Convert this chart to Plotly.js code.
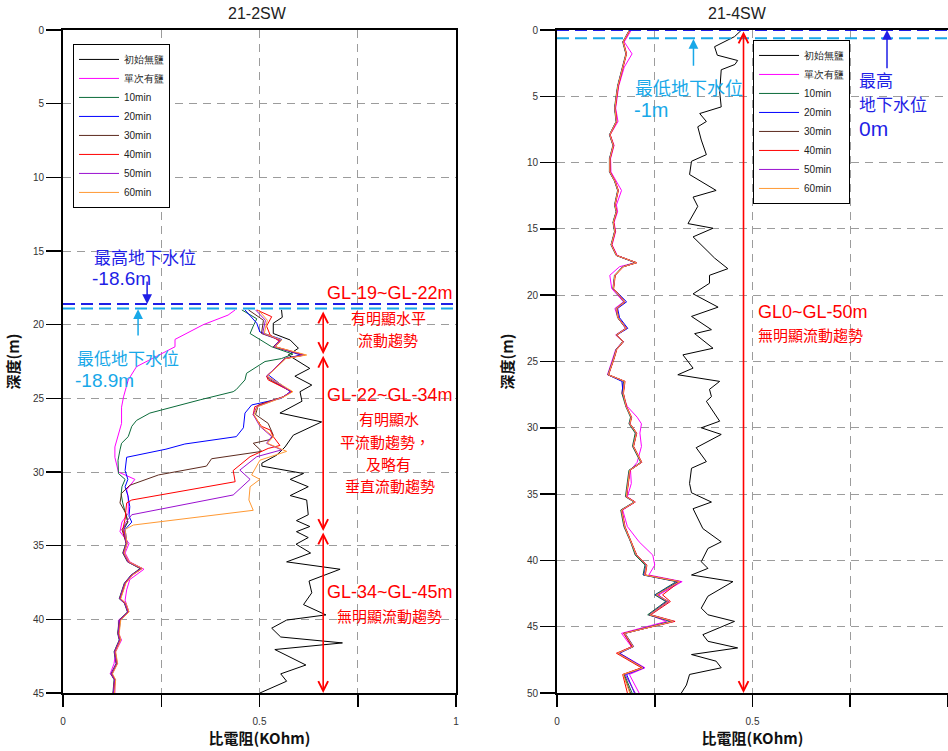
<!DOCTYPE html>
<html><head><meta charset="utf-8">
<script src="https://cdn.plot.ly/plotly-3.0.1.min.js"></script>
<style>html,body{margin:0;padding:0;background:#fff}#chart{width:948px;height:751px}</style>
</head><body><div id="chart"></div>
<script>
// ---------- series names / colours ----------
const SERIES = ['初始無鹽','單次有鹽','10min','20min','30min','40min','50min','60min'];
const COLORS = ['#000000','#ff00ff','#0b6b3a','#0000ff','#5c2a1e','#ff0000','#9a10d0','#ff9933'];
const XTICKS = [0,0.25,0.5,0.75,1];
const XTICKTEXT = ['0','','0.5','','1'];

// ---------- 21-2SW (left) ----------
const L_TAIL_D = [34.85,35.5,36.1,36.55,37.0,37.55,38.6,38.9,39.5,40.05,40.95,41.4,42.2,43.0,43.7,44.1,45.0];

const L_BLACK_D = [19.0,19.5,19.9,20.6,21.04,21.6,22.06,22.97,23.5,24.1,24.55,25.2,26.0,26.6,27.5,28.3,28.85,29.4,29.6,30.1,30.5,31.0,31.6,31.9,32.9,33.3,33.7,34.05,34.45,34.9,35.5,36.1,36.6,37.4,38.2,39.0,39.7,40.05,40.6,41.2,41.6,42.05,43.1,43.7,44.2,45.0];
const L_BLACK = [0.556,0.558,0.535,0.535,0.578,0.599,0.573,0.628,0.590,0.633,0.603,0.608,0.552,0.658,0.586,0.565,0.544,0.506,0.506,0.612,0.578,0.624,0.578,0.620,0.624,0.594,0.628,0.594,0.624,0.593,0.630,0.569,0.705,0.626,0.633,0.612,0.669,0.569,0.531,0.554,0.711,0.539,0.618,0.554,0.569,0.501];

const L_PINK_D = [19.0,19.35,20.0,21.0,21.5,22.06,22.85,23.75,24.9,25.6,26.7,28.3,29.0,30.0,30.5,31.2,31.7,32.8,33.4,34.05,34.85,35.5,36.1,36.6,37.3,38.0,38.7,39.5,40.05,40.95,41.4,42.2,43.0,43.7,44.1,45.0];
const L_PINK = [0.438,0.420,0.357,0.285,0.285,0.243,0.187,0.166,0.154,0.149,0.149,0.132,0.132,0.141,0.183,0.162,0.166,0.166,0.150,0.145,0.168,0.158,0.170,0.206,0.170,0.162,0.158,0.168,0.141,0.141,0.149,0.134,0.130,0.120,0.132,0.132];

const L_GREEN_D = [19.0,19.6,20.1,20.6,21.5,22.0,22.3,22.5,23.3,23.75,24.4,24.55,25.1,25.57,26.0,26.5,26.9,27.6,28.05,28.5,29.2,30.1,30.5,31.0,31.5,32.1,32.8,33.4,33.9].concat(L_TAIL_D);
const L_GREEN = [0.455,0.493,0.484,0.476,0.531,0.585,0.556,0.514,0.467,0.463,0.441,0.433,0.349,0.279,0.221,0.187,0.175,0.166,0.149,0.145,0.140,0.141,0.158,0.150,0.148,0.152,0.160,0.165,0.155,
  0.160,0.152,0.164,0.196,0.173,0.156,0.143,0.156,0.164,0.143,0.139,0.143,0.130,0.135,0.122,0.130,0.127];

const L_BLUE_D = [19.0,19.9,20.5,21.0,21.5,22.06,22.3,23.4,24.55,25.0,25.45,26.0,27.0,27.6,28.1,28.45,29.0,29.9,30.5,31.0,31.6,32.35,33.0,33.4,33.9].concat(L_TAIL_D);
const L_BLUE = [0.463,0.493,0.501,0.556,0.540,0.605,0.565,0.522,0.578,0.556,0.480,0.463,0.459,0.441,0.310,0.262,0.162,0.158,0.165,0.158,0.165,0.170,0.168,0.175,0.158,
  0.163,0.155,0.167,0.201,0.176,0.159,0.146,0.159,0.167,0.146,0.142,0.146,0.133,0.138,0.125,0.133,0.129];

const L_BROWN_D = [19.0,19.7,20.6,21.04,21.5,22.06,22.3,23.5,23.75,24.55,24.9,25.45,26.1,26.7,27.5,27.8,28.05,28.6,29.1,29.6,30.2,30.9,31.45,32.1,32.8,33.4,33.9].concat(L_TAIL_D);
const L_BROWN = [0.472,0.510,0.505,0.552,0.535,0.612,0.565,0.518,0.527,0.582,0.560,0.497,0.490,0.522,0.535,0.527,0.484,0.506,0.378,0.365,0.243,0.170,0.149,0.145,0.160,0.165,0.150,
  0.161,0.153,0.165,0.198,0.174,0.157,0.144,0.157,0.165,0.144,0.140,0.144,0.131,0.136,0.123,0.131,0.128];

const L_RED_D = [19.0,19.46,20.1,20.7,21.15,21.5,22.06,22.3,23.5,23.75,24.55,24.9,25.57,26.1,26.9,27.15,27.6,28.2,28.4,28.96,29.9,30.5,30.66,31.9,32.1,32.6,33.2,33.9].concat(L_TAIL_D);
const L_RED = [0.493,0.531,0.518,0.527,0.552,0.540,0.616,0.565,0.518,0.522,0.582,0.560,0.488,0.484,0.505,0.527,0.535,0.552,0.522,0.476,0.433,0.438,0.438,0.175,0.162,0.160,0.158,0.152,
  0.162,0.154,0.166,0.200,0.175,0.158,0.145,0.158,0.166,0.145,0.141,0.145,0.132,0.137,0.124,0.132,0.128];

const L_PURPLE_D = [19.0,19.7,20.6,21.04,21.5,22.06,22.3,23.5,24.55,24.9,25.57,26.1,26.9,27.6,28.05,28.5,28.96,29.87,30.5,31.56,32.9,33.5,33.9].concat(L_TAIL_D);
const L_PURPLE = [0.490,0.515,0.508,0.552,0.537,0.614,0.565,0.518,0.580,0.560,0.493,0.484,0.501,0.531,0.518,0.556,0.493,0.450,0.476,0.433,0.175,0.158,0.155,
  0.161,0.154,0.165,0.199,0.174,0.157,0.144,0.157,0.165,0.144,0.140,0.144,0.131,0.136,0.123,0.131,0.128];

const L_ORANGE_D = [19.0,19.7,20.6,21.04,21.5,22.06,22.3,23.5,24.55,24.9,25.57,26.1,26.9,27.6,28.05,28.6,29.2,29.6,30.2,30.5,31.0,31.9,32.6,33.6,33.9].concat(L_TAIL_D);
const L_ORANGE = [0.497,0.520,0.512,0.556,0.540,0.620,0.567,0.520,0.585,0.562,0.495,0.486,0.503,0.535,0.520,0.569,0.501,0.493,0.480,0.501,0.476,0.473,0.484,0.179,0.158,
  0.163,0.156,0.168,0.202,0.177,0.160,0.147,0.160,0.168,0.147,0.143,0.147,0.134,0.139,0.126,0.134,0.131];

// ---------- 21-4SW (right) ----------
const R_BLACK_D = [0,0.5,1.26,1.9,2.3,2.6,3.0,4.65,5.8,6.3,6.9,7.3,8.3,9.4,9.9,10.9,12.1,12.6,13.3,14.6,14.95,15.6,16.7,17.2,18.0,18.5,19.1,19.9,20.9,21.6,22.6,22.9,24.0,24.5,25.5,26.0,26.5,27.1,27.65,28.0,29.5,30.0,30.5,31.5,32.55,33.05,34.2,34.9,35.6,36.1,37.6,38.6,39.1,40.1,40.6,41.1,41.6,42.7,43.6,44.1,44.6,45.6,46.1,46.6,47.1,47.6,48.1,48.6,49.4,50.0];
const R_BLACK = [0.472,0.454,0.403,0.410,0.462,0.455,0.420,0.416,0.420,0.365,0.382,0.360,0.369,0.382,0.344,0.339,0.407,0.348,0.360,0.335,0.399,0.348,0.386,0.403,0.437,0.390,0.390,0.348,0.412,0.344,0.395,0.352,0.399,0.322,0.348,0.309,0.416,0.390,0.395,0.382,0.416,0.369,0.420,0.356,0.382,0.344,0.339,0.344,0.395,0.348,0.373,0.420,0.386,0.369,0.386,0.344,0.450,0.386,0.369,0.386,0.454,0.373,0.386,0.462,0.344,0.407,0.420,0.339,0.331,0.318];

const R_D = [0,0.9,1.8,2.8,4.2,5.0,5.9,6.9,7.9,8.7,9.7,10.7,11.4,12.1,13.2,13.7,14.5,15.2,16.2,17.0,17.55,17.85,18.5,19.5,20.5,21.0,21.7,22.5,23.0,23.5,24.1,24.9,26.0,26.5,27.4,28.4,29.2,29.7,30.4,31.4,32.6,33.2,34.2,35.2,35.6,36.2,37.45,38.6,39.6,40.35,41.1,41.6,42.6,43.1,44.1,44.6,45.5,46.5,47.0,48.1,48.6,50.0];
const R_PINK   = [0.190,0.172,0.192,0.172,0.158,0.154,0.150,0.156,0.136,0.146,0.137,0.138,0.152,0.165,0.152,0.155,0.146,0.150,0.141,0.154,0.200,0.160,0.135,0.140,0.170,0.148,0.156,0.175,0.150,0.168,0.150,0.142,0.129,0.170,0.166,0.180,0.205,0.216,0.212,0.216,0.205,0.188,0.190,0.180,0.200,0.168,0.180,0.210,0.245,0.250,0.235,0.320,0.260,0.280,0.235,0.280,0.165,0.190,0.160,0.225,0.185,0.210];
const R_GREEN  = [0.185,0.168,0.176,0.168,0.155,0.151,0.147,0.151,0.134,0.143,0.134,0.134,0.147,0.155,0.147,0.151,0.143,0.147,0.138,0.151,0.200,0.168,0.147,0.143,0.172,0.151,0.155,0.176,0.151,0.168,0.151,0.143,0.130,0.170,0.166,0.176,0.188,0.184,0.200,0.193,0.214,0.184,0.180,0.175,0.197,0.163,0.171,0.188,0.200,0.225,0.220,0.305,0.250,0.278,0.232,0.290,0.172,0.192,0.158,0.218,0.172,0.192];
const R_BLUE   = [0.186,0.169,0.177,0.169,0.156,0.152,0.148,0.152,0.135,0.144,0.135,0.135,0.148,0.156,0.148,0.152,0.144,0.148,0.139,0.152,0.202,0.169,0.148,0.144,0.178,0.155,0.160,0.181,0.153,0.170,0.152,0.144,0.131,0.166,0.169,0.177,0.190,0.186,0.203,0.195,0.216,0.186,0.182,0.177,0.199,0.165,0.173,0.190,0.203,0.228,0.222,0.310,0.252,0.282,0.236,0.294,0.174,0.196,0.160,0.222,0.178,0.198];
const R_BROWN  = [0.186,0.169,0.177,0.169,0.156,0.152,0.148,0.152,0.135,0.144,0.135,0.135,0.148,0.156,0.148,0.152,0.144,0.148,0.139,0.152,0.203,0.169,0.148,0.144,0.173,0.152,0.156,0.177,0.152,0.169,0.152,0.144,0.131,0.173,0.169,0.177,0.190,0.186,0.203,0.195,0.216,0.186,0.182,0.177,0.199,0.165,0.173,0.190,0.203,0.229,0.224,0.312,0.254,0.284,0.237,0.297,0.173,0.195,0.156,0.220,0.170,0.188];
const R_RED    = [0.187,0.170,0.178,0.170,0.157,0.153,0.149,0.153,0.136,0.145,0.136,0.136,0.149,0.157,0.149,0.153,0.145,0.149,0.140,0.153,0.204,0.170,0.149,0.145,0.174,0.153,0.157,0.178,0.153,0.170,0.153,0.145,0.132,0.174,0.170,0.178,0.191,0.187,0.204,0.196,0.217,0.187,0.183,0.178,0.200,0.166,0.174,0.191,0.204,0.230,0.226,0.314,0.270,0.290,0.240,0.302,0.170,0.192,0.152,0.216,0.168,0.180];
const R_PURPLE = [0.186,0.169,0.177,0.169,0.156,0.152,0.148,0.152,0.135,0.144,0.135,0.135,0.148,0.156,0.148,0.152,0.144,0.148,0.139,0.152,0.203,0.169,0.148,0.144,0.173,0.152,0.156,0.177,0.152,0.169,0.152,0.144,0.131,0.173,0.169,0.177,0.190,0.186,0.203,0.195,0.216,0.186,0.182,0.177,0.199,0.165,0.173,0.190,0.203,0.229,0.224,0.316,0.256,0.286,0.238,0.298,0.172,0.194,0.156,0.220,0.174,0.200];
const R_ORANGE = [0.186,0.169,0.177,0.169,0.156,0.152,0.148,0.152,0.135,0.144,0.135,0.135,0.148,0.156,0.148,0.152,0.144,0.148,0.139,0.152,0.203,0.169,0.148,0.144,0.173,0.152,0.156,0.177,0.152,0.169,0.152,0.144,0.131,0.173,0.169,0.177,0.190,0.186,0.203,0.195,0.216,0.186,0.182,0.177,0.199,0.165,0.173,0.190,0.203,0.229,0.224,0.314,0.254,0.284,0.237,0.297,0.173,0.195,0.156,0.220,0.169,0.186];

// water levels / zones
const L_WL_HIGH = 18.6, L_WL_LOW = 18.9;
const R_WL_HIGH = 0, R_WL_LOW = 0.62;
const L_ZONES = [[19,22],[22,34],[34,45]];
const R_ZONES = [[0,50]];

// ---------- build ----------
const leftData = [[L_BLACK,L_BLACK_D],[L_PINK,L_PINK_D],[L_GREEN,L_GREEN_D],[L_BLUE,L_BLUE_D],[L_BROWN,L_BROWN_D],[L_RED,L_RED_D],[L_PURPLE,L_PURPLE_D],[L_ORANGE,L_ORANGE_D]];
const rightData = [[R_BLACK,R_BLACK_D],[R_PINK,R_D],[R_GREEN,R_D],[R_BLUE,R_D],[R_BROWN,R_D],[R_RED,R_D],[R_PURPLE,R_D],[R_ORANGE,R_D]];

const traces = [];
leftData.forEach((s,i)=>{
  traces.push({type:'scatter',mode:'lines',x:s[0],y:s[1],name:SERIES[i],xaxis:'x',yaxis:'y',
    line:{color:COLORS[i],width:1},legend:'legend'});
});
rightData.forEach((s,i)=>{
  traces.push({type:'scatter',mode:'lines',x:s[0],y:s[1],name:SERIES[i],xaxis:'x2',yaxis:'y2',
    line:{color:COLORS[i],width:1},legend:'legend2'});
});

const DBLUE = '#1f1fe6', LBLUE = '#18a8e8', RED = '#ff0000';
const CJK = 'Noto Sans CJK TC, sans-serif';
const LAT = 'Liberation Sans, Arial, sans-serif';

const shapes = [];
function hline(xd, yr, y, color){
  shapes.push({type:'line',xref:xd,yref:yr,x0:0,x1:1,y0:y,y1:y,line:{color:color,width:2,dash:'12px,6px'}});
}
hline('x domain','y',L_WL_HIGH,DBLUE);
hline('x domain','y',L_WL_LOW,LBLUE);
hline('x2 domain','y2',R_WL_HIGH,DBLUE);
hline('x2 domain','y2',R_WL_LOW,LBLUE);

const ann = [];
function txt(xr,yr,x,y,t,color,size,anchor,family){
  ann.push({xref:xr,yref:yr,x:x,y:y,text:t,showarrow:false,xanchor:anchor||'left',yanchor:'middle',
    font:{family:family||CJK,size:size,color:color}});
}
function arrow(xr,yr,x,y0,y1,color,head,both,w,sz){
  ann.push({xref:xr,yref:yr,axref:xr,ayref:yr,x:x,y:y1,ax:x,ay:y0,text:'',showarrow:true,
    arrowhead:head,startarrowhead:head,arrowside:both?'end+start':'end',arrowcolor:color,
    arrowwidth:w,arrowsize:sz,startarrowsize:sz,standoff:0,startstandoff:0});
}
// left annotations
txt('x','y',0.074,15.34,'最高地下水位',DBLUE,17);
txt('x','y',0.069,16.85,'-18.6m',DBLUE,19,'left',LAT);
arrow('x','y',0.214,16.97,L_WL_HIGH,DBLUE,2,false,1.5,1.3);
arrow('x','y',0.191,20.84,L_WL_LOW+0.05,LBLUE,2,false,1.5,1.3);
txt('x','y',0.031,22.2,'最低地下水位',LBLUE,17);
txt('x','y',0.025,23.78,'-18.9m',LBLUE,19,'left',LAT);
L_ZONES.forEach(z=>arrow('x','y',0.662,z[0],z[1],RED,5,true,1.6,1.2));
txt('x','y',0.832,17.85,'GL-19~GL-22m',RED,18,'center',LAT);
txt('x','y',0.827,19.5,'有明顯水平',RED,15,'center');
txt('x','y',0.827,21.0,'流動趨勢',RED,15,'center');
txt('x','y',0.832,24.77,'GL-22~GL-34m',RED,18,'center',LAT);
txt('x','y',0.83,26.35,'有明顯水',RED,15,'center');
txt('x','y',0.82,27.93,'平流動趨勢，',RED,15,'center');
txt('x','y',0.828,29.42,'及略有',RED,15,'center');
txt('x','y',0.832,30.9,'垂直流動趨勢',RED,15,'center');
txt('x','y',0.832,38.15,'GL-34~GL-45m',RED,18,'center',LAT);
txt('x','y',0.83,39.72,'無明顯流動趨勢',RED,15,'center');
// right annotations
arrow('x2','y2',0.349,2.8,R_WL_LOW+0.05,LBLUE,2,false,1.5,1.3);
txt('x2','y2',0.194,4.3,'最低地下水位',LBLUE,18);
txt('x2','y2',0.192,6.05,'-1m',LBLUE,20,'left',LAT);
arrow('x2','y2',0.844,3.0,R_WL_HIGH,DBLUE,2,false,1.5,1.3);
txt('x2','y2',0.768,3.7,'最高',DBLUE,17);
txt('x2','y2',0.768,5.55,'地下水位',DBLUE,17);
txt('x2','y2',0.766,7.4,'0m',DBLUE,21,'left',LAT);
R_ZONES.forEach(z=>arrow('x2','y2',0.477,z[0],z[1],RED,5,true,1.6,1.2));
txt('x2','y2',0.510,21.27,'GL0~GL-50m',RED,18,'left',LAT);
txt('x2','y2',0.510,23.0,'無明顯流動趨勢',RED,15,'left');
// subplot titles
ann.push({xref:'paper',yref:'paper',x:0.2203,y:1.0256,text:'21-2SW',showarrow:false,xanchor:'center',yanchor:'middle',font:{family:LAT,size:16,color:'#222'}});
ann.push({xref:'paper',yref:'paper',x:0.7627,y:1.0256,text:'21-4SW',showarrow:false,xanchor:'center',yanchor:'middle',font:{family:LAT,size:16,color:'#222'}});

const NARROW = 'Liberation Sans Narrow, Arial Narrow, Liberation Sans, sans-serif';
function xax(domain, anchor){
  return {domain:domain,anchor:anchor,range:[0,1],tickvals:XTICKS,ticktext:XTICKTEXT,
    ticks:'outside',ticklen:12,tickwidth:1.5,tickcolor:'#000',showline:true,linecolor:'#000',linewidth:2,mirror:true,
    showgrid:true,gridcolor:'#9c9c9c',gridwidth:1,griddash:'8px,6px',zeroline:false,
    tickfont:{family:NARROW,size:10,color:'#333'},ticklabelstandoff:6,
    title:{text:'比電阻(KOhm)',font:{family:CJK,size:15,color:'#111',weight:'bold'},standoff:6}};
}
function yax(range, anchor){
  return {anchor:anchor,domain:[0,1],range:range,dtick:5,ticks:'outside',ticklen:15,tickwidth:1.5,tickcolor:'#000',
    showline:true,linecolor:'#000',linewidth:2,mirror:true,showgrid:true,gridcolor:'#9c9c9c',gridwidth:1,griddash:'8px,6px',
    zeroline:false,tickfont:{family:NARROW,size:10,color:'#333'},
    title:{text:'深度(m)',font:{family:CJK,size:15,color:'#111',weight:'bold'},standoff:10}};
}
const legendBase = {bgcolor:'#fff',bordercolor:'#000',borderwidth:1,font:{family:LAT,size:10,color:'#222'},
  xanchor:'left',yanchor:'top',tracegroupgap:0,itemwidth:40};

const layout = {
  width:948,height:751,margin:{l:63,r:0,t:30,b:58},paper_bgcolor:'#fff',plot_bgcolor:'#fff',
  xaxis:xax([0,0.4441],'y'),
  yaxis:yax([45,0],'x'),
  xaxis2:xax([0.5582,1],'y2'),
  yaxis2:yax([50,0],'x2'),
  legend:Object.assign({},legendBase,{x:0.0113,y:0.979}),
  legend2:Object.assign({},legendBase,{x:0.7797,y:0.985}),
  shapes:shapes,annotations:ann,showlegend:true
};
Plotly.newPlot('chart',traces,layout,{displayModeBar:false,staticPlot:true});
</script></body></html>
